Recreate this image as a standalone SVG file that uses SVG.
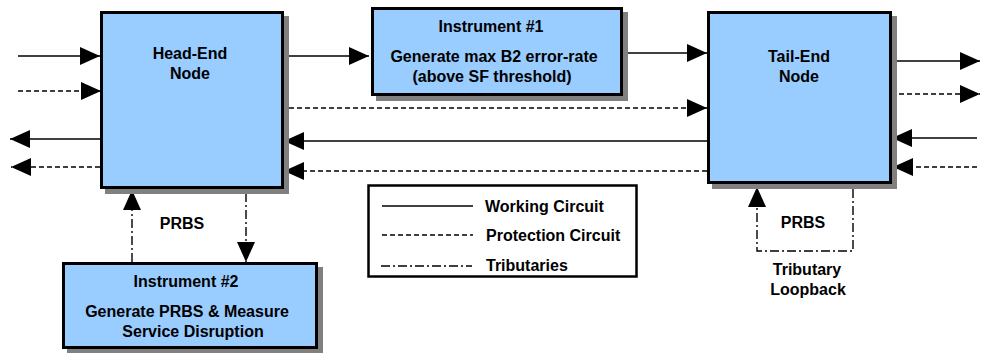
<svg xmlns="http://www.w3.org/2000/svg" width="981" height="353" viewBox="0 0 981 353">
<style>
.box{fill:#99ccff;stroke:#000;stroke-width:3}
.sh{fill:#808080}
.t{font-family:"Liberation Sans",Arial,sans-serif;font-weight:bold;font-size:16px;fill:#000}
.c{text-anchor:middle}
.ln{fill:none;stroke:#000;stroke-width:1.4}
.dash{stroke-dasharray:5,3}
.dd{stroke-dasharray:9,3,2,3}
</style>
<defs>
<marker id="ah" viewBox="0 0 20 18" markerWidth="20" markerHeight="18" refX="20" refY="9" orient="auto" markerUnits="userSpaceOnUse">
<path d="M0,0 L20,9 L0,18 Z" fill="#000"/>
</marker>
</defs>
<rect width="981" height="353" fill="#fff"/>
<g id="connectors">
<line class="ln" x1="18" y1="56" x2="100" y2="56" marker-end="url(#ah)"/>
<line class="ln dash" x1="18" y1="91" x2="101" y2="91" marker-end="url(#ah)"/>
<line class="ln" x1="100" y1="139" x2="10" y2="139" marker-end="url(#ah)"/>
<line class="ln dash" x1="100" y1="167" x2="11" y2="167" marker-end="url(#ah)"/>
<line class="ln" x1="284" y1="56" x2="369" y2="56" marker-end="url(#ah)"/>
<line class="ln" x1="623" y1="53" x2="707" y2="53" marker-end="url(#ah)"/>
<line class="ln dash" x1="289" y1="108" x2="707" y2="108" marker-end="url(#ah)"/>
<line class="ln" x1="707" y1="141" x2="284" y2="141" marker-end="url(#ah)"/>
<line class="ln dash" x1="707" y1="171" x2="284" y2="171" marker-end="url(#ah)"/>
<line class="ln" x1="892" y1="61" x2="980" y2="61" marker-end="url(#ah)"/>
<line class="ln dash" x1="899" y1="94" x2="980" y2="94" marker-end="url(#ah)"/>
<line class="ln" x1="977" y1="138" x2="892" y2="138" marker-end="url(#ah)"/>
<line class="ln dash" x1="977" y1="167" x2="893" y2="167" marker-end="url(#ah)"/>
<line class="ln dd" x1="132" y1="262" x2="132" y2="190" marker-end="url(#ah)"/>
<line class="ln dd" x1="246" y1="193" x2="246" y2="262" marker-end="url(#ah)"/>
<path class="ln dd" d="M853,189 V251 H757 V187" marker-end="url(#ah)"/>
</g>
<g id="head-end">
<rect class="sh" x="105" y="16" width="184" height="178"/>
<rect class="box" x="101.5" y="12.5" width="181" height="175"/>
<text class="t c" x="190" y="59">Head-End</text>
<text class="t c" x="190" y="79">Node</text>
</g>
<g id="instrument1">
<rect class="sh" x="376" y="12" width="252" height="89"/>
<rect class="box" x="372.5" y="8.5" width="249" height="86"/>
<text class="t c" x="491" y="32">Instrument #1</text>
<text class="t c" x="494" y="62">Generate max B2 error-rate</text>
<text class="t c" x="492" y="82">(above SF threshold)</text>
</g>
<g id="tail-end">
<rect class="sh" x="712" y="16" width="185" height="173"/>
<rect class="box" x="708.5" y="12.5" width="182" height="170"/>
<text class="t c" x="799" y="62">Tail-End</text>
<text class="t c" x="799" y="82">Node</text>
</g>
<g id="instrument2">
<rect class="sh" x="67" y="267" width="256" height="86"/>
<rect class="box" x="63.5" y="263.5" width="253" height="84"/>
<text class="t c" x="186" y="287">Instrument #2</text>
<text class="t c" x="187" y="317">Generate PRBS &amp; Measure</text>
<text class="t c" x="193" y="337">Service Disruption</text>
</g>
<g id="labels">
<text class="t c" x="182" y="229">PRBS</text>
<text class="t c" x="803" y="228">PRBS</text>
<text class="t c" x="807" y="275">Tributary</text>
<text class="t c" x="808" y="295">Loopback</text>
</g>
<g id="legend">
<rect x="368.5" y="185.5" width="268" height="91" fill="#fff" stroke="#000" stroke-width="2.5"/>
<line class="ln" x1="382" y1="206" x2="473" y2="206"/>
<line class="ln dash" x1="382" y1="235" x2="473" y2="235"/>
<line class="ln dd" x1="381" y1="266" x2="472" y2="266"/>
<text class="t" x="485" y="212">Working Circuit</text>
<text class="t" x="486" y="241">Protection Circuit</text>
<text class="t" x="486" y="271">Tributaries</text>
</g>
</svg>
